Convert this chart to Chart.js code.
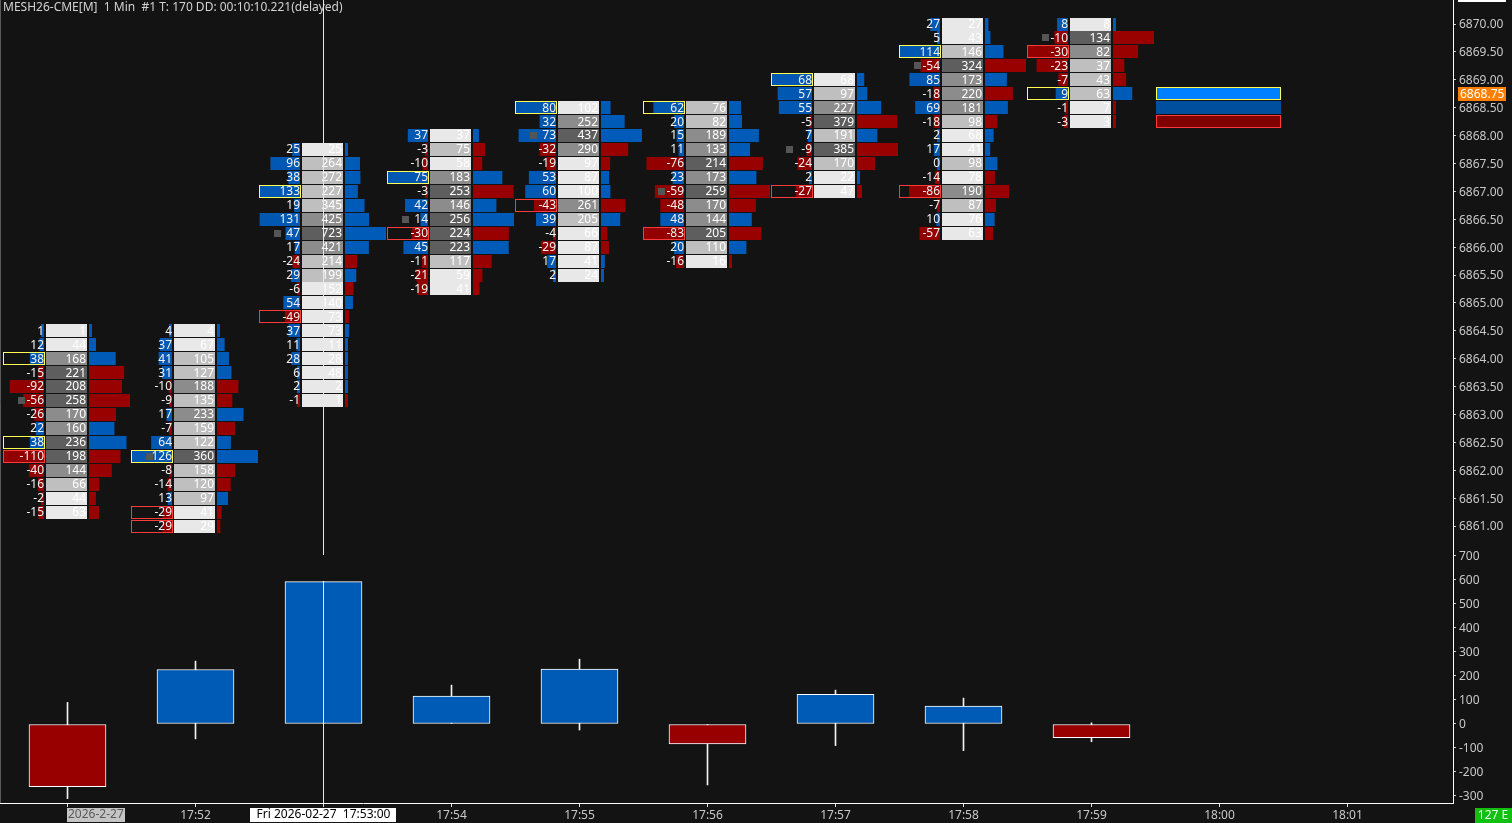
<!DOCTYPE html>
<html>
<head>
<meta charset="utf-8">
<script src="https://cdn.jsdelivr.net/npm/chart.js@4.4.1/dist/chart.umd.min.js"></script>
<style>
  html, body { margin: 0; padding: 0; background: #131313; overflow: hidden; }
  canvas { display: block; }
</style>
</head>
<body>
<canvas id="fp" width="1512" height="823"></canvas>
<script>
// minutes on the time axis (index 0 = 17:51)
const minuteLabels = ['17:51', '17:52', '17:53', '17:54', '17:55', '17:56', '17:57', '17:58', '17:59', '18:00', '18:01'];
// price of the top row in each footprint column
const topPrices = [6864.50, 6864.50, 6867.75, 6868.00, 6868.50, 6868.50, 6869.00, 6870.00, 6870.00];

// delta / volume per price row, top to bottom
const delta1751 = [1, 12, 38, -15, -92, -56, -26, 22, 38, -110, -40, -16, -2, -15];
const vol1751 = [1, 44, 168, 221, 208, 258, 170, 160, 236, 198, 144, 66, 44, 63];
const delta1752 = [4, 37, 41, 31, -10, -9, 17, -7, 64, 126, -8, -14, 13, -29, -29];
const vol1752 = [4, 67, 105, 127, 188, 135, 233, 159, 122, 360, 158, 120, 97, 41, 29];
const delta1753 = [25, 96, 38, 133, 19, 131, 47, 17, -24, 29, -6, 54, -49, 37, 11, 28, 6, 2, -1];
const vol1753 = [25, 264, 272, 227, 345, 425, 723, 421, 214, 199, 152, 140, 73, 73, 11, 28, 48, 2, 1];
const delta1754 = [37, -3, -10, 75, -3, 42, 14, -30, 45, -11, -21, -19];
const vol1754 = [37, 75, 58, 183, 253, 146, 256, 224, 223, 117, 59, 41];
const delta1755 = [80, 32, 73, -32, -19, 53, 60, -43, 39, -4, -29, 17, 2];
const vol1755 = [102, 252, 437, 290, 97, 87, 100, 261, 205, 66, 87, 41, 24];
const delta1756 = [62, 20, 15, 11, -76, 23, -59, -48, 48, -83, 20, -16];
const vol1756 = [76, 82, 189, 133, 214, 173, 259, 170, 144, 205, 110, 16];
const delta1757 = [68, 57, 55, -5, 7, -9, -24, 2, -27];
const vol1757 = [68, 97, 227, 379, 191, 385, 170, 22, 47];
const delta1758 = [27, 5, 114, -54, 85, -18, 69, -18, 2, 17, 0, -14, -86, -7, 10, -57];
const vol1758 = [27, 43, 146, 324, 173, 220, 181, 98, 68, 41, 98, 78, 190, 87, 76, 63];
const delta1759 = [8, -10, -30, -23, -7, 9, -1, -3];
const vol1759 = [8, 134, 82, 37, 43, 63, 7, 3];

// cumulative delta candles (open is 0)
const cdClose = [-261, 227, 593, 116, 229, -83, 124, 75, -57];
const cdHigh = [90, 262, 593, 162, 270, 0, 141, 108, 5];
const cdLow = [-311, -62, 0, 0, -25, -254, -90, -111, -74];

// live rows at the right edge and last price
const livePrices = [6868.75, 6868.50, 6868.25];
const lastPrice = 6868.75;

const deltaCols = [delta1751, delta1752, delta1753, delta1754, delta1755, delta1756, delta1757, delta1758, delta1759];
const volCols = [vol1751, vol1752, vol1753, vol1754, vol1755, vol1756, vol1757, vol1758, vol1759];

const BLUE = '#0058b2';
const RED = '#920000';
const FONT = '12px "Noto Sans", "Open Sans", sans-serif';

function volShade(r) {
    if (r >= 0.75) return '#5e5e5e';
    if (r >= 0.5) return '#8c8c8c';
    if (r >= 0.25) return '#bfbfbf';
    return '#e8e8e8';
}

// no label padding, the panes must fill the canvas exactly
function noPad(s) {
    s.paddingTop = 0;
    s.paddingBottom = 0;
    s.paddingLeft = 0;
    s.paddingRight = 0;
}

// fond
const bgPlugin = {
    id: 'bg',
    beforeDraw(chart) {
        const ctx = chart.ctx;
        ctx.save();
        ctx.fillStyle = '#131313';
        ctx.fillRect(0, 0, chart.width, chart.height);
        ctx.restore();
    }
};

// footprint columns drawn with the chart's scales
const footprintPlugin = {
    id: 'footprint',
    afterDatasetsDraw(chart) {
        const { ctx, chartArea } = chart;
        const x = chart.scales.x, y = chart.scales.y;
        ctx.save();
        ctx.beginPath();
        ctx.rect(chartArea.left, chartArea.top, chartArea.width, y.bottom - chartArea.top);
        ctx.clip();
        ctx.font = FONT;
        ctx.textBaseline = 'middle';

        deltaCols.forEach((d, i) => {
            const v = volCols[i];
            const c = Math.floor(x.getPixelForValue(i));
            const maxV = Math.max(...v);
            const maxD = Math.max(...d.map(Math.abs));
            const maxPos = Math.max(...d);
            const minNeg = Math.min(...d);

            d.forEach((dv, r) => {
                const p = topPrices[i] - r * 0.25;
                const yc = y.getPixelForValue(p);
                const top = Math.round(yc - 6.5);
                const h = 13;

                // delta bar
                const dw = Math.max(3, Math.abs(dv) / maxD * 41);
                ctx.fillStyle = dv >= 0 ? BLUE : RED;
                ctx.fillRect(c - 23 - dw, top, dw, h);

                // max / min delta outline
                if (dv === maxPos && maxPos > 0) {
                    ctx.strokeStyle = '#ffff55';
                    ctx.lineWidth = 1;
                    ctx.strokeRect(c - 64 + 0.5, top + 0.5, 41, h - 1);
                }
                if (dv === minNeg && minNeg < 0) {
                    ctx.strokeStyle = '#ff3a3a';
                    ctx.lineWidth = 1;
                    ctx.strokeRect(c - 64 + 0.5, top + 0.5, 41, h - 1);
                }

                // POC marker
                if (v[r] === maxV) {
                    ctx.fillStyle = '#555555';
                    ctx.fillRect(c - 49, Math.round(yc - 3.5), 7, 7);
                }

                // volume cell
                ctx.fillStyle = volShade(v[r] / maxV);
                ctx.fillRect(c - 21, top, 41, h);

                // volume profile bar
                const pw = Math.max(3, v[r] / maxV * 41);
                ctx.fillStyle = dv >= 0 ? '#005bb8' : '#990000';
                ctx.fillRect(c + 22, top, pw, h);

                // texts
                ctx.fillStyle = '#f2f2f2';
                ctx.textAlign = 'right';
                ctx.fillText(String(dv), c - 23, yc + 0.5);
                ctx.fillStyle = '#ffffff';
                ctx.fillText(String(v[r]), c + 19, yc + 0.5);
            });
        });

        // live rows
        const x0 = Math.round(x.getPixelForValue(8.5));
        const x1 = Math.round(x.getPixelForValue(9.48));
        const liveFill = ['#0080ff', '#004f9e', '#800000'];
        const liveLine = ['#ffff55', null, '#ff3a3a'];
        livePrices.forEach((p, k) => {
            const yc = y.getPixelForValue(p);
            const top = Math.round(yc - 6.5);
            ctx.fillStyle = liveFill[k];
            ctx.fillRect(x0, top, x1 - x0, 13);
            if (liveLine[k]) {
                ctx.strokeStyle = liveLine[k];
                ctx.strokeRect(x0 + 0.5, top + 0.5, x1 - x0 - 1, 12);
            }
        });
        ctx.restore();
    },
    afterDraw(chart) {
        const { ctx, chartArea } = chart;
        const x = chart.scales.x, y = chart.scales.y;
        ctx.save();
        ctx.font = FONT;
        ctx.textBaseline = 'middle';

        // header
        ctx.fillStyle = '#d2d2d2';
        ctx.textAlign = 'left';
        ctx.fillText('MESH26-CME[M]  1 Min  #1 T: 170 DD: 00:10:10.221(delayed)', 3, 8);

        // crosshair
        const cx = Math.floor(x.getPixelForValue(2)) + 0.5;
        ctx.strokeStyle = '#e8e8e8';
        ctx.lineWidth = 1;
        ctx.beginPath();
        ctx.moveTo(cx, chartArea.top);
        ctx.lineTo(cx, 555);
        ctx.moveTo(cx, 581);
        ctx.lineTo(cx, chartArea.bottom);
        ctx.stroke();

        // left frame
        ctx.strokeStyle = '#5a5a5a';
        ctx.beginPath();
        ctx.moveTo(0.5, 0);
        ctx.lineTo(0.5, chartArea.bottom);
        ctx.stroke();

        // date labels on the time axis
        const d0 = Math.floor(x.getPixelForValue(0));
        ctx.fillStyle = '#c4c4c4';
        ctx.fillRect(d0, 808, 58, 14);
        ctx.fillStyle = '#5a5a5a';
        ctx.textAlign = 'left';
        ctx.fillText('2026-2-27', d0 + 1, 815);

        ctx.fillStyle = '#ffffff';
        ctx.fillRect(cx - 73.5, 808, 146, 14);
        ctx.fillStyle = '#000000';
        ctx.textAlign = 'center';
        ctx.fillText('Fri 2026-02-27  17:53:00', cx, 815);

        // last price label
        const ly = y.getPixelForValue(lastPrice);
        ctx.fillStyle = '#ff8000';
        ctx.fillRect(1458, Math.round(ly - 7), 48, 14);
        ctx.fillStyle = '#ffffff';
        ctx.textAlign = 'left';
        ctx.fillText(lastPrice.toFixed(2), 1460, ly + 0.5);

        // crosshair price label cut off at the top
        ctx.fillStyle = '#ffffff';
        ctx.fillRect(1458, 0, 48, 2);

        // bar timer
        ctx.fillStyle = '#12c012';
        ctx.fillRect(1475, 808, 37, 15);
        ctx.fillStyle = '#e6ffe6';
        ctx.textAlign = 'center';
        ctx.fillText('127 E', 1493, 816);
        ctx.restore();
    }
};

const tickColor = '#c8c8c8';

new Chart(document.getElementById('fp'), {
    type: 'bar',
    data: {
        datasets: [
            {
                label: 'wick',
                data: cdHigh.map((hi, i) => ({ x: i, y: [cdLow[i], hi] })),
                yAxisID: 'cd',
                backgroundColor: '#f0f0f0',
                barThickness: 1,
                grouped: false,
                order: 2
            },
            {
                label: 'delta',
                data: cdClose.map((cl, i) => ({ x: i, y: [0, cl] })),
                yAxisID: 'cd',
                backgroundColor: cdClose.map(cl => cl >= 0 ? '#005bb7' : '#980000'),
                borderColor: '#ffffff',
                borderWidth: 1,
                borderSkipped: false,
                barThickness: 77,
                grouped: false,
                order: 1
            }
        ]
    },
    options: {
        responsive: false,
        animation: false,
        devicePixelRatio: 1,
        layout: { padding: 0 },
        plugins: { legend: { display: false }, tooltip: { enabled: false } },
        scales: {
            x: {
                type: 'linear',
                position: 'bottom',
                offset: false,
                min: -67.5 / 128,
                max: (1453 - 67.5) / 128,
                afterFit: s => { s.height = 20; noPad(s); },
                ticks: {
                    stepSize: 1,
                    maxTicksLimit: 50,
                    includeBounds: false,
                    autoSkip: false,
                    maxRotation: 0,
                    padding: 1,
                    color: tickColor,
                    font: { family: '"Noto Sans", sans-serif', size: 12 },
                    callback: v => (v === 0 || v === 2) ? '' : (minuteLabels[v] || '')
                },
                grid: { drawOnChartArea: false, tickLength: 4, color: '#dddddd', offset: false },
                border: { color: '#ffffff' }
            },
            y: {
                type: 'linear',
                position: 'right',
                stack: 'panes',
                stackWeight: 545,
                weight: 0,
                min: 6860.6594,
                max: 6870.4303,
                afterFit: s => { s.width = 59; noPad(s); },
                ticks: {
                    stepSize: 0.5,
                    maxTicksLimit: 50,
                    includeBounds: false,
                    autoSkip: false,
                    padding: 3,
                    labelOffset: 1,
                    color: tickColor,
                    font: { family: '"Noto Sans", sans-serif', size: 12 },
                    callback: v => v.toFixed(2)
                },
                grid: { drawOnChartArea: false, tickLength: 3, color: '#cccccc' },
                border: { color: '#ffffff' }
            },
            cd: {
                type: 'linear',
                position: 'right',
                stack: 'panes',
                stackWeight: 258,
                weight: 1,
                min: -329.17,
                max: 745.83,
                afterFit: s => { s.width = 59; noPad(s); },
                ticks: {
                    stepSize: 100,
                    maxTicksLimit: 50,
                    includeBounds: false,
                    autoSkip: false,
                    padding: 3,
                    labelOffset: 1,
                    color: tickColor,
                    font: { family: '"Noto Sans", sans-serif', size: 12 },
                    callback: v => String(Math.round(v))
                },
                grid: { drawOnChartArea: false, tickLength: 3, color: '#cccccc' },
                border: { color: '#ffffff' }
            }
        }
    },
    plugins: [bgPlugin, footprintPlugin]
});
</script>
</body>
</html>
